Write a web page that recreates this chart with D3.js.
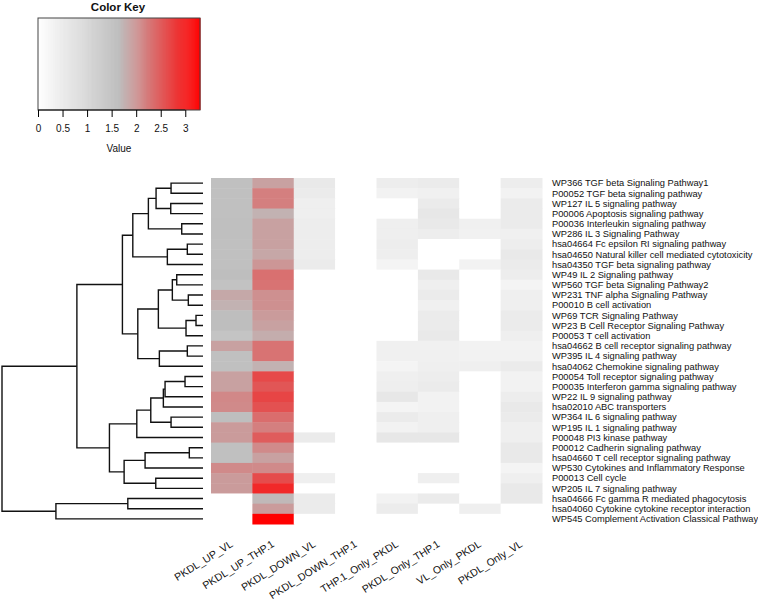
<!DOCTYPE html>
<html>
<head>
<meta charset="utf-8">
<script src="https://cdn.jsdelivr.net/npm/d3@7"></script>
<style>
  body { margin: 0; background: #fff; }
  text { font-family: "Liberation Sans", Arial, sans-serif; fill: #111; }
</style>
</head>
<body>
<div id="chart"></div>
<script>
// row labels (top to bottom, dendrogram order)
const rowLabels = [
  "WP366 TGF beta Signaling Pathway1",
  "P00052 TGF beta signaling pathway",
  "WP127 IL 5 signaling pathway",
  "P00006 Apoptosis signaling pathway",
  "P00036 Interleukin signaling pathway",
  "WP286 IL 3 Signaling Pathway",
  "hsa04664 Fc epsilon RI signaling pathway",
  "hsa04650 Natural killer cell mediated cytotoxicity",
  "hsa04350 TGF beta signaling pathway",
  "WP49 IL 2 Signaling pathway",
  "WP560 TGF beta Signaling Pathway2",
  "WP231 TNF alpha Signaling Pathway",
  "P00010 B cell activation",
  "WP69 TCR Signaling Pathway",
  "WP23 B Cell Receptor Signaling Pathway",
  "P00053 T cell activation",
  "hsa04662 B cell receptor signaling pathway",
  "WP395 IL 4 signaling pathway",
  "hsa04062 Chemokine signaling pathway",
  "P00054 Toll receptor signaling pathway",
  "P00035 Interferon gamma signaling pathway",
  "WP22 IL 9 signaling pathway",
  "hsa02010 ABC transporters",
  "WP364 IL 6 signaling pathway",
  "WP195 IL 1 signaling pathway",
  "P00048 PI3 kinase pathway",
  "P00012 Cadherin signaling pathway",
  "hsa04660 T cell receptor signaling pathway",
  "WP530 Cytokines and Inflammatory Response",
  "P00013 Cell cycle",
  "WP205 IL 7 signaling pathway",
  "hsa04666 Fc gamma R mediated phagocytosis",
  "hsa04060 Cytokine cytokine receptor interaction",
  "WP545 Complement Activation Classical Pathway"
]

const colLabels = ["PKDL_UP_VL", "PKDL_UP_THP.1", "PKDL_DOWN_VL", "PKDL_DOWN_THP.1",
                   "THP.1_Only_PKDL", "PKDL_Only_THP.1", "VL_Only_PKDL", "PKDL_Only_VL"]

// cell values, one row per pathway, one entry per column
const values = [
  [1.60, 1.90, 0.55, 0, 0.45, 0.52, 0,    0.45],
  [1.60, 2.20, 0.50, 0, 0.33, 0.38, 0,    0.33],
  [1.60, 2.20, 0.40, 0, 0,    0.52, 0,    0.50],
  [1.60, 1.75, 0.40, 0, 0,    0.60, 0,    0.50],
  [1.62, 1.90, 0.45, 0, 0.40, 0.55, 0.38, 0.50],
  [1.62, 1.90, 0.45, 0, 0.40, 0.45, 0.35, 0.38],
  [1.60, 1.90, 0.45, 0, 0.45, 0,    0,    0.45],
  [1.60, 1.85, 0.45, 0, 0.42, 0,    0,    0.55],
  [1.60, 2.00, 0.50, 0, 0.28, 0,    0.33, 0.52],
  [1.65, 2.33, 0,    0, 0,    0.55, 0,    0.45],
  [1.55, 2.30, 0,    0, 0,    0.40, 0,    0.28],
  [1.84, 2.05, 0,    0, 0,    0.50, 0,    0.40],
  [1.75, 2.05, 0,    0, 0,    0.38, 0,    0.40],
  [1.65, 1.95, 0,    0, 0,    0.50, 0,    0.50],
  [1.65, 1.90, 0,    0, 0,    0.50, 0,    0.50],
  [1.50, 1.80, 0,    0, 0,    0.55, 0,    0.40],
  [1.90, 2.30, 0,    0, 0.38, 0.38, 0.33, 0.33],
  [1.60, 2.30, 0,    0, 0.38, 0.38, 0.33, 0.33],
  [1.60, 1.75, 0,    0, 0.28, 0.40, 0.40, 0.50],
  [1.90, 2.67, 0,    0, 0.40, 0.45, 0,    0.33],
  [1.90, 2.55, 0,    0, 0.42, 0.50, 0,    0.33],
  [2.12, 2.70, 0,    0, 0.60, 0.33, 0,    0.45],
  [2.10, 2.60, 0,    0, 0.28, 0.33, 0,    0.55],
  [1.65, 2.35, 0,    0, 0.50, 0.40, 0,    0.50],
  [1.95, 2.20, 0,    0, 0.33, 0.40, 0,    0.40],
  [1.95, 2.50, 0.50, 0, 0.60, 0.60, 0,    0.40],
  [1.60, 2.10, 0,    0, 0,    0,    0,    0.55],
  [1.60, 1.90, 0,    0, 0,    0,    0,    0.55],
  [2.10, 2.10, 0,    0, 0,    0,    0,    0.28],
  [1.95, 2.65, 0.40, 0, 0,    0.40, 0,    0.40],
  [1.95, 2.95, 0,    0, 0,    0,    0,    0.55],
  [0,    1.70, 0.52, 0, 0.33, 0.50, 0,    0.55],
  [0,    1.95, 0.52, 0, 0.48, 0,    0.40, 0],
  [0,    3.30, 0,    0, 0,    0,    0,    0]
]

// row dendrogram, hclust style: negative = leaf (1-based), positive = earlier merge
const mergeLeft   = [-1, -3, 1, -5, 3, -7, 6, 5, -10, -12, 9, -14, 12, 11, -17, 15, 14, 8,
                     -20, 19, 20, -24, 21, 23, -27, 25, -30, 26, 24, 18, -32, 31, 30]
const mergeRight  = [-2, -4, 2, -6, 4, -8, -9, 7, -11, -13, 10, -15, -16, 13, -18, -19, 16, 17,
                     -21, -22, -23, -25, 22, -26, -28, -29, -31, 27, 28, 29, -33, -34, 32]
const mergeHeight = [32, 32.3, 47, 21.3, 54.7, 15.7, 35.7, 70.3, 26.3, 14.7, 30.7, 7, 17, 44.7,
                     15.7, 43.7, 65.3, 80.7, 18, 38, 39.7, 32, 52.3, 66.3, 13.7, 58, 47.3, 79,
                     93.7, 126.3, 75.3, 147.3, 201.3]

const keyTicks = [0, 0.5, 1, 1.5, 2, 2.5, 3]

const width = 758
const height = 605

const svg = d3.select("#chart").append("svg")
              .attr("width", width)
              .attr("height", height)

// colour scale: white -> grey -> red
const color = d3.scaleLinear()
                .domain([0, 1.65, 3.3])
                .range(["#ffffff", "#bebebe", "#ff0000"])

// heatmap scales
const xScale = d3.scaleBand()
                 .domain(colLabels)
                 .range([211, 542])
const yScale = d3.scaleBand()
                 .domain(rowLabels)
                 .range([178, 524])

// cells
const cells = []
values.forEach((row, i) => row.forEach((v, j) => cells.push({r: rowLabels[i], c: colLabels[j], v: v})))
svg.append("g")
   .selectAll("rect")
   .data(cells)
   .join("rect")
   .attr("x", d => xScale(d.c))
   .attr("y", d => yScale(d.r))
   .attr("width", xScale.bandwidth() + 0.5)
   .attr("height", yScale.bandwidth() + 0.5)
   .attr("fill", d => color(d.v))

// row labels
svg.append("g")
   .selectAll("text")
   .data(rowLabels)
   .join("text")
   .attr("x", 552)
   .attr("y", d => yScale(d) + yScale.bandwidth() / 2)
   .attr("dy", "0.35em")
   .attr("font-size", "9.3px")
   .text(d => d)

// column labels, rotated
svg.append("g")
   .selectAll("text")
   .data(colLabels)
   .join("text")
   .attr("text-anchor", "end")
   .attr("font-size", "10.5px")
   .attr("transform", d => `translate(${xScale(d) + xScale.bandwidth() / 2 + 2}, 546) rotate(-32)`)
   .text(d => d)

// dendrogram
const hScale = d3.scaleLinear()
                 .domain([0, d3.max(mergeHeight)])
                 .range([203, 2])
const nodeY = []
const nodeH = []
const posOf = k => k < 0 ? yScale(rowLabels[-k - 1]) + yScale.bandwidth() / 2 : nodeY[k - 1]
const hOf = k => k < 0 ? 0 : nodeH[k - 1]
const segs = []
mergeHeight.forEach((h, i) => {
  const a = mergeLeft[i], b = mergeRight[i]
  const ya = posOf(a), yb = posOf(b)
  const x = hScale(h)
  segs.push([[hScale(hOf(a)), ya], [x, ya], [x, yb], [hScale(hOf(b)), yb]])
  nodeY.push((ya + yb) / 2)
  nodeH.push(h)
})
svg.append("g")
   .selectAll("path")
   .data(segs)
   .join("path")
   .attr("d", d3.line())
   .attr("fill", "none")
   .attr("stroke", "#111")
   .attr("stroke-width", 1.4)

// colour key
const keyScale = d3.scaleLinear()
                   .domain([0, 3.3])
                   .range([38, 200])
const key = svg.append("g")
const steps = d3.range(0, 3.3, 0.02)
key.selectAll("rect")
   .data(steps)
   .join("rect")
   .attr("x", d => keyScale(d))
   .attr("y", 18)
   .attr("width", keyScale(0.02) - keyScale(0) + 0.6)
   .attr("height", 92)
   .attr("fill", d => color(d + 0.01))
key.append("rect")
   .attr("x", 38)
   .attr("y", 18)
   .attr("width", 162)
   .attr("height", 92)
   .attr("fill", "none")
   .attr("stroke", "#444")
   .attr("stroke-width", 1)
key.append("g")
   .attr("transform", "translate(0, 110)")
   .call(d3.axisBottom(keyScale).tickValues(keyTicks).tickSize(7).tickPadding(8).tickFormat(d3.format("")))
   .call(g => g.select(".domain").attr("d", `M${keyScale(0)},0H${keyScale(3)}`).attr("stroke", "#111"))
   .call(g => g.selectAll("text").attr("font-size", "10px").attr("font-family", "Liberation Sans, Arial, sans-serif").attr("fill", "#111"))
key.append("text")
   .attr("x", 119)
   .attr("y", 152)
   .attr("text-anchor", "middle")
   .attr("font-size", "10px")
   .text("Value")
key.append("text")
   .attr("x", 118)
   .attr("y", 11)
   .attr("text-anchor", "middle")
   .attr("font-size", "11.5px")
   .attr("font-weight", "bold")
   .text("Color Key")
</script>
</body>
</html>
